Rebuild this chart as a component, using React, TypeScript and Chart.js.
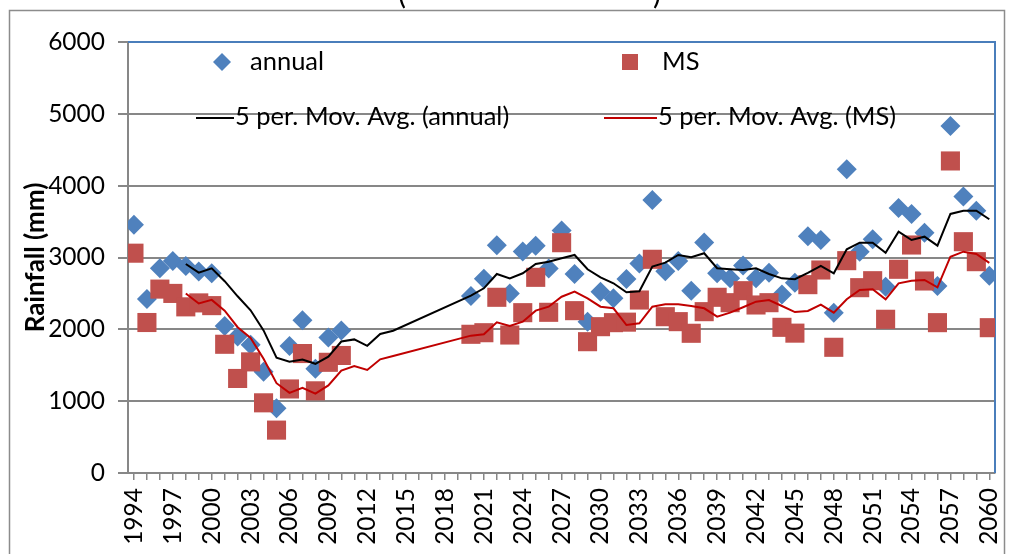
import React, { useEffect, useRef } from 'react';
import { Chart, registerables } from 'chart.js';

Chart.register(...registerables);

const years = [
  1994, 1995, 1996, 1997, 1998, 1999, 2000, 2001, 2002, 2003, 2004, 2005, 2006, 2007, 2008, 2009, 2010,
  2011, 2012, 2013, 2014, 2015, 2016, 2017, 2018, 2019, 2020, 2021, 2022, 2023, 2024, 2025, 2026, 2027,
  2028, 2029, 2030, 2031, 2032, 2033, 2034, 2035, 2036, 2037, 2038, 2039, 2040, 2041, 2042, 2043, 2044,
  2045, 2046, 2047, 2048, 2049, 2050, 2051, 2052, 2053, 2054, 2055, 2056, 2057, 2058, 2059, 2060,
];

const xTickLabels = [
  1994, 1997, 2000, 2003, 2006, 2009, 2012, 2015, 2018, 2021, 2024, 2027,
  2030, 2033, 2036, 2039, 2042, 2045, 2048, 2051, 2054, 2057, 2060,
];

const yTickValues = [0, 1000, 2000, 3000, 4000, 5000, 6000];

const annual = [
  3455, 2422, 2852, 2951, 2880, 2805, 2782, 2046, 1900, 1785, 1408, 902, 1768, 2125, 1452, 1888, 1985,
  null, null, null, null, null, null, null, null, null,
  2464, 2705, 3170, 2500, 3085, 3162, 2847, 3375, 2770, 2104, 2522, 2434, 2700, 2915, 3800, 2808, 2950,
  2536, 3210, 2782, 2712, 2890, 2712, 2787, 2485, 2650, 3295, 3244, 2232, 4228, 3081, 3255, 2594, 3690,
  3606, 3346, 2603, 4831, 3848, 3652, 2747,
];

const ms = [
  3060, 2095, 2560, 2500, 2313, 2368, 2330, 1792, 1316, 1547, 977, 597, 1170, 1663, 1144, 1541, 1636,
  null, null, null, null, null, null, null, null, null,
  1931, 1953, 2446, 1921, 2232, 2724, 2237, 3206, 2260, 1828, 2037, 2093, 2100, 2408, 2975, 2176, 2107,
  1945, 2246, 2446, 2371, 2538, 2339, 2371, 2028, 1947, 2622, 2826, 1750, 2956, 2580, 2677, 2140, 2836,
  3174, 2673, 2093, 4344, 3220, 2942, 2023,
];

const maAnnual = [
  null, null, null, null,
  2910, 2790, 2850, 2670, 2460, 2265, 1985, 1605, 1550, 1580, 1520, 1620, 1830, 1860, 1770, 1935, 1980,
  null, null, null, null, null,
  2470, 2571, 2770, 2710, 2780, 2910, 2942, 2989, 3035, 2836, 2724, 2641, 2515, 2530, 2873, 2928, 3035,
  3003, 3059, 2850, 2836, 2826, 2850, 2770, 2710, 2697, 2785, 2882, 2780, 3114, 3206, 3206, 3067, 3360,
  3244, 3290, 3165, 3606, 3652, 3652, 3532,
];

const maMS = [
  null, null, null, null,
  2500, 2360, 2410, 2260, 2030, 1880, 1590, 1250, 1115, 1185, 1105, 1220, 1425, 1490, 1434, 1583, 1630,
  null, null, null, null, null,
  1912, 1931, 2098, 2046, 2107, 2260, 2315, 2454, 2524, 2432, 2315, 2293, 2060, 2084, 2315, 2348, 2348,
  2325, 2293, 2176, 2232, 2307, 2385, 2408, 2325, 2240, 2255, 2345, 2232, 2418, 2548, 2557, 2418, 2641,
  2677, 2687, 2585, 3011, 3081, 3049, 2925,
];

const seriesNames = ['annual', 'MS', '5 per. Mov. Avg. (annual)', '5 per. Mov. Avg. (MS)'];
const yAxisTitle = 'Rainfall (mm)';

const FONT = 'Lato, "Open Sans", sans-serif';
const BLUE = '#4F81BD';
const RED = '#C0504D';
const GRID = '#878787';

const toPoints = (vals: (number | null)[]) => vals.map((v, i) => ({ x: years[i], y: v }));

const decorPlugin = {
  id: 'decor',
  beforeDraw(chart: any) {
    const ctx = chart.ctx;
    ctx.save();
    ctx.fillStyle = '#ffffff';
    ctx.fillRect(0, 0, chart.width, chart.height);
    ctx.strokeStyle = '#8c8c8c';
    ctx.lineWidth = 1.5;
    ctx.strokeRect(9.5, 10.5, 995, 600);
    // title remnants (cut off at the top)
    ctx.fillStyle = '#000';
    ctx.font = `30px ${FONT}`;
    ctx.textBaseline = 'alphabetic';
    ctx.textAlign = 'center';
    ctx.fillText('(', 402, 4);
    ctx.fillText(')', 657, 4);
    ctx.restore();
  },
  beforeDatasetsDraw(chart: any) {
    const { ctx, chartArea } = chart;
    ctx.save();
    ctx.strokeStyle = '#4A7EBB';
    ctx.lineWidth = 2;
    ctx.beginPath();
    ctx.moveTo(chartArea.left, chartArea.top);
    ctx.lineTo(chartArea.right, chartArea.top);
    ctx.lineTo(chartArea.right, chartArea.bottom);
    ctx.stroke();
    ctx.restore();
  },
  afterDatasetsDraw(chart: any) {
    const { ctx, chartArea } = chart;
    ctx.save();
    // y axis title
    ctx.translate(36, (chartArea.top + chartArea.bottom) / 2);
    ctx.rotate(-Math.PI / 2);
    ctx.font = `bold 26px ${FONT}`;
    ctx.fillStyle = '#000';
    ctx.textAlign = 'center';
    ctx.textBaseline = 'middle';
    ctx.fillText(yAxisTitle, 0, 0);
    ctx.restore();

    // legend
    ctx.save();
    ctx.font = `25.5px ${FONT}`;
    ctx.fillStyle = '#000';
    ctx.textBaseline = 'middle';
    ctx.textAlign = 'left';
    const r1 = 62;
    const r2 = 117;
    ctx.fillStyle = BLUE;
    ctx.beginPath();
    ctx.moveTo(222 - 9, r1);
    ctx.lineTo(222, r1 - 9);
    ctx.lineTo(222 + 9, r1);
    ctx.lineTo(222, r1 + 9);
    ctx.closePath();
    ctx.fill();
    ctx.fillStyle = '#000';
    ctx.fillText(seriesNames[0], 250, r1);
    ctx.fillStyle = RED;
    ctx.fillRect(630 - 8, r1 - 8, 16, 16);
    ctx.fillStyle = '#000';
    ctx.fillText(seriesNames[1], 662, r1);
    ctx.lineWidth = 2;
    ctx.strokeStyle = '#000000';
    ctx.beginPath();
    ctx.moveTo(196, r2 + 1);
    ctx.lineTo(234, r2 + 1);
    ctx.stroke();
    ctx.fillText(seriesNames[2], 235, r2);
    ctx.strokeStyle = '#C00000';
    ctx.beginPath();
    ctx.moveTo(604, r2 + 1);
    ctx.lineTo(657, r2 + 1);
    ctx.stroke();
    ctx.fillText(seriesNames[3], 658, r2);
    ctx.restore();
  },
};

export default function App() {
  const canvasRef = useRef<HTMLCanvasElement | null>(null);

  useEffect(() => {
    if (!canvasRef.current) return;
    const chart = new Chart(canvasRef.current, {
      type: 'line',
      data: {
        datasets: [
          {
            label: seriesNames[3],
            data: toPoints(maMS),
            borderColor: '#C00000',
            borderWidth: 2,
            pointRadius: 0,
            spanGaps: true,
            tension: 0,
            order: 0,
          },
          {
            label: seriesNames[2],
            data: toPoints(maAnnual),
            borderColor: '#000000',
            borderWidth: 2,
            pointRadius: 0,
            spanGaps: true,
            tension: 0,
            order: 1,
          },
          {
            label: seriesNames[1],
            data: toPoints(ms),
            showLine: false,
            pointStyle: 'rect',
            pointRadius: 13.5,
            pointBackgroundColor: RED,
            pointBorderWidth: 0,
            borderColor: RED,
            order: 2,
          },
          {
            label: seriesNames[0],
            data: toPoints(annual),
            showLine: false,
            pointStyle: 'rectRot',
            pointRadius: 10,
            pointBackgroundColor: BLUE,
            pointBorderWidth: 0,
            borderColor: BLUE,
            order: 3,
          },
        ] as any,
      },
      options: {
        responsive: false,
        animation: false,
        devicePixelRatio: 1,
        layout: { padding: { left: 0, top: 42, right: 18, bottom: 0 } },
        plugins: {
          legend: { display: false },
          tooltip: { enabled: false },
          title: { display: false },
        },
        scales: {
          x: {
            type: 'linear',
            min: 1993.54,
            max: 2060.44,
            afterBuildTicks: (scale: any) => {
              scale.ticks = years.map((y) => ({ value: y }));
            },
            afterFit: (scale: any) => {
              scale.height = 81;
              scale.paddingLeft = 0;
              scale.paddingRight = 0;
            },
            grid: {
              drawOnChartArea: false,
              drawTicks: true,
              tickLength: 7,
              color: GRID,
              lineWidth: 1.5,
            },
            border: { display: true, color: GRID, width: 2 },
            ticks: {
              autoSkip: false,
              maxRotation: 90,
              minRotation: 90,
              padding: 8,
              color: '#000',
              font: { family: FONT, size: 24.5 },
              callback: (value: any) => (xTickLabels.includes(Number(value)) ? String(value) : ''),
            },
          },
          y: {
            min: 0,
            max: 6000,
            afterBuildTicks: (scale: any) => {
              scale.ticks = yTickValues.map((v) => ({ value: v }));
            },
            afterFit: (scale: any) => {
              scale.width = 128;
            },
            grid: {
              color: GRID,
              lineWidth: 2,
              drawTicks: true,
              tickLength: 10,
            },
            border: { display: true, color: GRID, width: 2 },
            ticks: {
              padding: 13,
              color: '#000',
              font: { family: FONT, size: 24.5 },
              callback: (value: any) => String(value),
            },
          },
        },
      },
      plugins: [decorPlugin],
    } as any);
    return () => chart.destroy();
  }, []);

  return (
    <div style={{ position: 'absolute', left: 0, top: 0, width: 1013, height: 554 }}>
      <canvas ref={canvasRef} width={1013} height={554} style={{ display: 'block' }} />
    </div>
  );
}
